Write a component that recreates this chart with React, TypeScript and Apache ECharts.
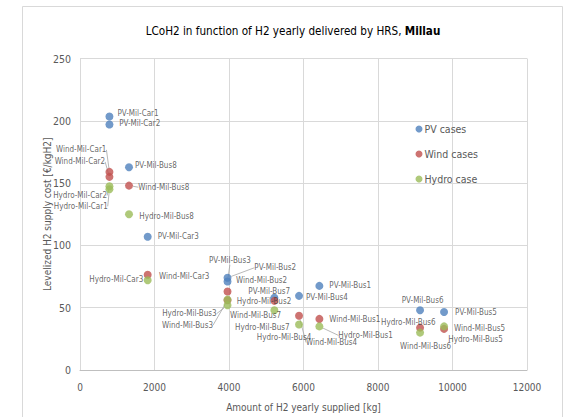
import React, { useEffect, useRef } from "react";
import * as echarts from "echarts";

// ---- data ----
const caseNames = ["Car1", "Car2", "Car3", "Bus1", "Bus2", "Bus3", "Bus4", "Bus5", "Bus6", "Bus7", "Bus8"];
const h2Supplied = [790, 790, 1817, 6426, 3960, 3960, 5880, 9773, 9129, 5218, 1316];
const pvCost = [203.5, 197, 107, 67.5, 74, 71, 59.5, 46.5, 48, 58, 162.7];
const windCost = [159, 155, 76.5, 41, 63, 56, 43.5, 33, 34, 55.5, 148];
const hydroCost = [145, 147.5, 72, 35, 56.5, 52, 36.5, 35, 30, 48, 125];

const legendNames = ["PV cases", "Wind cases", "Hydro case"];
const techPrefixes = ["PV", "Wind", "Hydro"];
const xTicks = { min: 0, max: 12000, interval: 2000 };
const yTicks = { min: 0, max: 250, interval: 50 };

const titleText = "LCoH2 in function of H2 yearly delivered by HRS, ";
const titleBold = "Millau";
const xAxisName = "Amount of H2 yearly supplied [kg]";
const yAxisName = "Levelized H2 supply cost [€/kgH2]";

// ---- label placement (offset from the marker centre, text alignment, leader line) ----
type Placement = [number, number, "left" | "right", boolean];
const pvLabels: Record<string, Placement> = {
  Car1: [8, -2.5, "left", false],
  Car2: [9.7, -1.5, "left", false],
  Car3: [10, 0, "left", false],
  Bus1: [10, 0, "left", false],
  Bus2: [26.8, -10, "left", true],
  Bus3: [-18.5, -20.7, "left", true],
  Bus4: [7, 1.7, "left", false],
  Bus5: [11, 0.7, "left", false],
  Bus6: [-18.3, -10, "left", false],
  Bus7: [-26, -6.7, "left", false],
  Bus8: [6, -1.6, "left", false],
};
const windLabels: Record<string, Placement> = {
  Car1: [-3, -22, "right", true],
  Car2: [-4.3, -15, "right", true],
  Car3: [11.3, 1.6, "left", false],
  Bus1: [10, 1, "left", false],
  Bus2: [8.5, -11.3, "left", false],
  Bus3: [-14.5, 25, "right", true],
  Bus4: [7, 26.7, "left", true],
  Bus5: [10, 0, "left", false],
  Bus6: [-20, 18.8, "left", false],
  Bus7: [-44.3, 15, "left", false],
  Bus8: [9.3, 1.6, "left", true],
};
const hydroLabels: Record<string, Placement> = {
  Car1: [-1.7, 17, "right", true],
  Car2: [-2.3, 9.3, "right", true],
  Car3: [-4.4, -1, "right", false],
  Bus1: [19, 9, "left", true],
  Bus2: [9.2, 1.4, "left", false],
  Bus3: [-10.8, 8.4, "right", true],
  Bus4: [-42.3, 12.9, "left", false],
  Bus5: [4.3, 12.7, "left", false],
  Bus6: [-39, -10.3, "left", false],
  Bus7: [-39.3, 17.4, "left", false],
  Bus8: [10.3, 2.3, "left", false],
};

const colors = ["#4F81BD", "#C0504D", "#9BBB59"];
const FONT = "'Liberation Sans Narrow', 'DejaVu Sans Condensed', 'Roboto Condensed', 'Liberation Sans', sans-serif";

function makeSeries(idx: number, values: number[], placements: Record<string, Placement>) {
  return {
    type: "scatter",
    name: legendNames[idx],
    symbol: "circle",
    symbolSize: 8,
    itemStyle: { color: colors[idx] },
    data: caseNames.map((c, i) => ({
      name: `${techPrefixes[idx]}-Mil-${c}`,
      value: [h2Supplied[i], values[i]],
      labelLine: { show: placements[c][3] },
    })),
    label: {
      show: true,
      formatter: "{b}",
      fontSize: 8,
      color: "#404040",
      fontFamily: FONT,
    },
    labelLine: { show: false, lineStyle: { color: "#a6a6a6", width: 0.8 } },
    labelLayout: (p: any) => {
      const pl = placements[caseNames[p.dataIndex]];
      return {
        x: p.rect.x + p.rect.width / 2 + pl[0],
        y: p.rect.y + p.rect.height / 2 + pl[1],
        align: pl[2],
        verticalAlign: "middle",
      };
    },
  };
}

export default function App() {
  const ref = useRef<HTMLDivElement>(null);
  useEffect(() => {
    const chart = echarts.init(ref.current!, null, { renderer: "svg" });
    chart.setOption({
      animation: false,
      backgroundColor: "#ffffff",
      textStyle: { fontFamily: FONT },
      graphic: [
        {
          type: "rect",
          z: -10,
          shape: { x: 22.5, y: 6.5, width: 540, height: 440 },
          style: { fill: "none", stroke: "#d9d9d9", lineWidth: 1 },
        },
        {
          type: "text",
          x: 293,
          y: 31,
          style: {
            text: `{a|${titleText}}{b|${titleBold}}`,
            align: "center",
            verticalAlign: "middle",
            rich: {
              a: { fontSize: 11.6, color: "#404040", fontFamily: FONT },
              b: { fontSize: 11.6, color: "#404040", fontWeight: "bold", fontFamily: FONT },
            },
          },
        },
      ],
      legend: {
        data: legendNames,
        orient: "vertical",
        left: 415.5,
        top: 122.5,
        padding: 0,
        icon: "circle",
        itemWidth: 7,
        itemHeight: 7,
        itemGap: 12,
        textStyle: { fontSize: 10.5, color: "#595959", lineHeight: 13, fontFamily: FONT, padding: [0, 0, 0, -3] },
      },
      grid: { left: 80, right: 39, top: 58.5, bottom: 44 },
      xAxis: {
        type: "value",
        min: xTicks.min,
        max: xTicks.max,
        interval: xTicks.interval,
        name: xAxisName,
        nameLocation: "middle",
        nameGap: 32,
        nameMoveOverlap: false,
        nameTextStyle: { fontSize: 10, color: "#595959", fontFamily: FONT },
        axisLine: { show: true, lineStyle: { color: "#bfbfbf" } },
        axisTick: { show: false },
        axisLabel: { fontSize: 10, color: "#595959", margin: 12, fontFamily: FONT, formatter: (v: number) => String(v) },
        splitLine: { show: true, lineStyle: { color: "#d9d9d9" } },
      },
      yAxis: {
        type: "value",
        min: yTicks.min,
        max: yTicks.max,
        interval: yTicks.interval,
        name: yAxisName,
        nameLocation: "middle",
        nameGap: 28,
        nameMoveOverlap: false,
        nameTextStyle: { fontSize: 10, color: "#595959", fontFamily: FONT },
        axisLine: { show: true, lineStyle: { color: "#d9d9d9" } },
        axisTick: { show: false },
        axisLabel: { fontSize: 10.5, color: "#595959", margin: 9, fontFamily: FONT, formatter: (v: number) => String(v) },
        splitLine: { show: true, lineStyle: { color: "#d9d9d9" } },
      },
      series: [
        makeSeries(0, pvCost, pvLabels),
        makeSeries(1, windCost, windLabels),
        makeSeries(2, hydroCost, hydroLabels),
      ],
    });
    return () => chart.dispose();
  }, []);
  return <div ref={ref} style={{ position: "fixed", left: 0, top: 0, width: 566, height: 417 }} />;
}
